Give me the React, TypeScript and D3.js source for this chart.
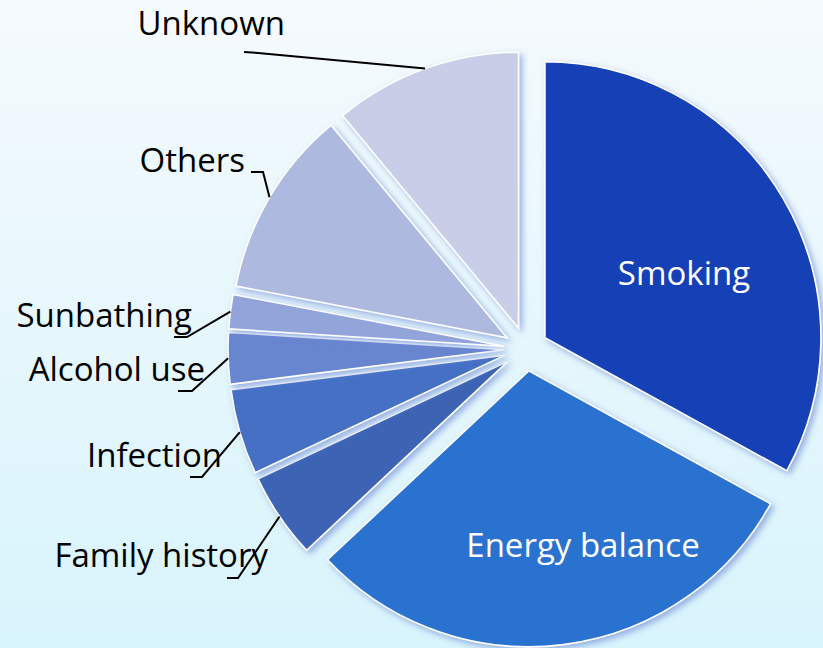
import React from "react";
import * as d3 from "d3";

// cancer causes share (%), clockwise from 12 o'clock
const categories = [
  "Smoking",
  "Energy balance",
  "Family history",
  "Infection",
  "Alcohol use",
  "Sunbathing",
  "Others",
  "Unknown",
];
const shares = [33, 30, 5, 5, 3, 2, 11, 11];
const colors = [
  "#1541B5",
  "#2C72D0",
  "#3E64B4",
  "#4570C4",
  "#6885CF",
  "#92A4DA",
  "#AEB9E0",
  "#C8CEE8",
];

const width = 823;
const height = 648;
const cx = 526;
const cy = 349;
const radius = 276;
const explode = 22;
const fontFamily = "'Open Sans', 'Noto Sans', sans-serif";
const fontSize = 33;

// label placement: text anchor point (end) + leader elbow / tail
type LabelPos = {
  inside?: boolean;
  x: number;
  y: number;
  elbow?: [number, number];
  tail?: [number, number];
};
const labelPos: Record<string, LabelPos> = {
  Smoking: { inside: true, x: 684, y: 285 },
  "Energy balance": { inside: true, x: 583, y: 557 },
  "Family history": { x: 268, y: 567, elbow: [238, 578], tail: [227, 578] },
  Infection: { x: 222, y: 467, elbow: [202, 477], tail: [190, 477] },
  "Alcohol use": { x: 205, y: 381, elbow: [192, 391], tail: [178, 391] },
  Sunbathing: { x: 192, y: 327, elbow: [187, 337], tail: [174, 337] },
  Others: { x: 245, y: 172, elbow: [263, 172], tail: [251, 172] },
  Unknown: { x: 285, y: 35, elbow: [258, 53], tail: [244, 52] },
};

export default function App() {
  const data = categories.map((c, i) => ({ name: c, value: shares[i], color: colors[i] }));
  const pie = d3
    .pie<{ name: string; value: number; color: string }>()
    .sort(null)
    .value((d) => d.value)
    .startAngle(0)
    .endAngle(2 * Math.PI);
  const arcs = pie(data);
  const arc = d3
    .arc<d3.PieArcDatum<{ name: string; value: number; color: string }>>()
    .innerRadius(0)
    .outerRadius(radius);

  return (
    <svg
      width={width}
      height={height}
      style={{ position: "absolute", left: 0, top: 0, display: "block" }}
    >
      <defs>
        <linearGradient id="bg" x1="0" y1="0" x2="0" y2="1">
          <stop offset="0" stopColor="#F5FAFD" />
          <stop offset="1" stopColor="#D8F4FC" />
        </linearGradient>
        <filter id="glow" x="-20%" y="-20%" width="140%" height="140%">
          <feDropShadow dx="3" dy="3" stdDeviation="3" floodColor="#6D8AD6" floodOpacity="0.65" />
        </filter>
      </defs>
      <rect width={width} height={height} fill="url(#bg)" />
      <g transform={`translate(${cx},${cy})`}>
        {arcs.map((a) => {
          const mid = (a.startAngle + a.endAngle) / 2;
          const ox = Math.sin(mid) * explode;
          const oy = -Math.cos(mid) * explode;
          return (
            <path
              key={a.data.name}
              d={arc(a) || ""}
              transform={`translate(${ox},${oy})`}
              fill={a.data.color}
              stroke="#fff"
              strokeWidth={1.6}
              strokeLinejoin="miter"
              filter="url(#glow)"
            />
          );
        })}
      </g>
      {arcs.map((a) => {
        const p = labelPos[a.data.name];
        const mid = (a.startAngle + a.endAngle) / 2;
        const ax = cx + Math.sin(mid) * (explode + radius);
        const ay = cy - Math.cos(mid) * (explode + radius);
        if (p.inside) {
          return (
            <text
              key={a.data.name}
              x={p.x}
              y={p.y}
              textAnchor="middle"
              fill="#fff"
              fontFamily={fontFamily}
              fontSize={fontSize}
            >
              {a.data.name}
            </text>
          );
        }
        const pts: [number, number][] = [[ax, ay], p.elbow!, p.tail!];
        return (
          <g key={a.data.name}>
            <path d={d3.line()(pts) || ""} fill="none" stroke="#000" strokeWidth={2} />
            <text
              x={p.x}
              y={p.y}
              textAnchor="end"
              fill="#000"
              fontFamily={fontFamily}
              fontSize={fontSize}
            >
              {a.data.name}
            </text>
          </g>
        );
      })}
    </svg>
  );
}
